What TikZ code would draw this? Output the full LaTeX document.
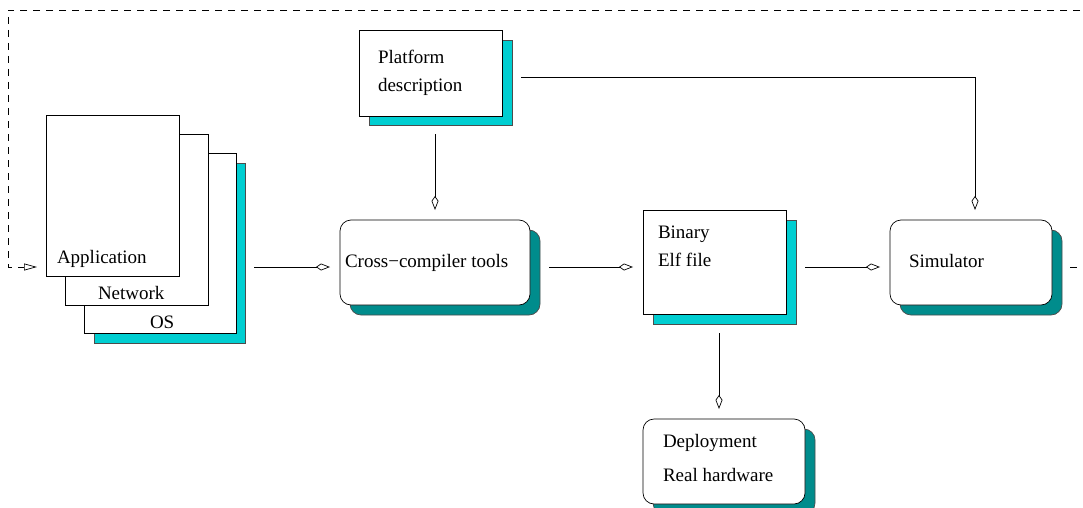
\documentclass[tikz,border=0pt]{standalone}
\usepackage{fontspec}
\setmainfont{Liberation Serif}
\usetikzlibrary{arrows.meta}
\definecolor{shcyan}{RGB}{0,206,209}
\definecolor{shteal}{RGB}{0,140,140}
\tikzset{
  every node/.style={inner sep=0pt, outer sep=0pt},
  wh/.style 2 args={minimum width=#1pt, minimum height=#2pt},
  box/.style={draw=black, fill=white, line width=0.7pt, anchor=north west},
  rbox/.style={box, rounded corners=11pt},
  cshadow/.style={draw=black!70, fill=shcyan, line width=0.7pt, anchor=north west},
  tshadow/.style={draw=black!70, fill=shteal, line width=0.7pt, anchor=north west, rounded corners=11pt},
  lbl/.style={anchor=base west, font=\fontsize{19}{23}\selectfont},
  flow/.style={line width=0.7pt, -{Kite[open, length=14pt, width=7pt, inset=5pt]},
               shorten <=9pt, shorten >=10pt},
  feedback/.style={line width=0.7pt, dash pattern=on 7pt off 6pt,
               -{Triangle[open, length=13pt, width=7pt]}},
}
\begin{document}
\begin{tikzpicture}[x=1pt, y=-1pt]
\useasboundingbox (0,0) rectangle (1083,508);
\clip (0,0) rectangle (1083,508);
\fill[white] (0,0) rectangle (1083,508);

% layered input files: application, network, OS
\node[cshadow, wh={151}{180}] (stacksh) at (94,163) {};
\node[box, wh={152}{180}] (os) at (84,153) {};
\node[box, wh={143}{171}] (net) at (65,134) {};
\node[box, wh={133}{161}] (app) at (46,115) {};
\node[lbl] (tapp) at (57,263) {Application};
\node[lbl] (tnet) at (98,299) {Network};
\node[lbl] (tos) at (150,328) {OS};

% platform description
\node[cshadow, wh={143}{85}] (platsh) at (369,40) {};
\node[box, wh={143}{86}] (plat) at (359,30) {};
\node[lbl] (tplat1) at (378,64) {Platform};
\node[lbl] (tplat2) at (378,92) {description};

% cross-compiler tools
\node[tshadow, wh={190}{85}] (ccsh) at (350,230) {};
\node[rbox, wh={190}{85}] (cc) at (340,220) {};
\node[lbl] (tcc) at (345,267) {Cross−compiler tools};

% binary
\node[cshadow, wh={143}{104}] (binsh) at (653,220) {};
\node[box, wh={143}{104}] (bin) at (643,210) {};
\node[lbl] (tbin1) at (658,238) {Binary};
\node[lbl] (tbin2) at (658,266) {Elf file};

% deployment
\node[tshadow, wh={162}{85}] (depsh) at (653,429) {};
\node[rbox, wh={162}{85}] (dep) at (643,419) {};
\node[lbl] (tdep1) at (663,447) {Deployment};
\node[lbl] (tdep2) at (663,481) {Real hardware};

% simulator
\node[tshadow, wh={162}{85}] (simsh) at (900,230) {};
\node[rbox, wh={162}{85}] (sim) at (890,220) {};
\node[lbl] (tsim) at (909,267) {Simulator};

% main flow
\coordinate (row) at (0,267);
\coordinate (platcol) at (435,0);
\coordinate (bincol) at (719,0);
\coordinate (platrow) at (0,77);
\coordinate (simcol) at (975,0);
\draw[flow] (stacksh.east |- row) -- (cc.west |- row);
\draw[flow] (ccsh.east |- row) -- (bin.west |- row);
\draw[flow] (binsh.east |- row) -- (sim.west |- row);
\draw[flow] (platcol |- platsh.south) -- (platcol |- cc.north);
\draw[flow] (bincol |- binsh.south) -- (bincol |- dep.north);
\draw[flow] (platsh.east |- platrow) -- (simcol |- platrow) -- (simcol |- sim.north);

% feedback loop from the simulator back to the inputs
\coordinate (fbstart) at (1070,267);
\coordinate (fbright) at (1096,10);
\coordinate (fbleft) at (8,10);
\coordinate (fbend) at (37,267);
\draw[feedback] (fbstart) -- (fbright |- fbstart) -- (fbright) -- (fbleft) -- (fbleft |- fbend) -- (fbend);
\end{tikzpicture}
\end{document}
